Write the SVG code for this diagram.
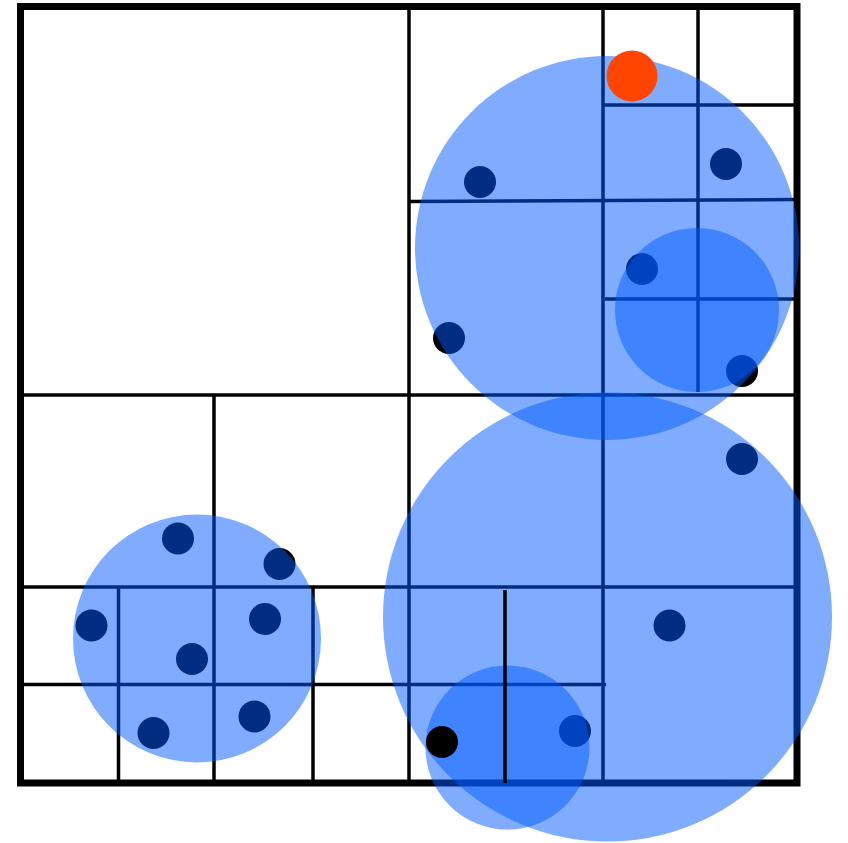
<svg xmlns="http://www.w3.org/2000/svg" width="848" height="843" viewBox="0 0 848 843">
<style>
.g{stroke:#000;stroke-width:3.5;fill:none}
.b{stroke:#000;stroke-width:7;fill:none}
.p{fill:#000}
.c{fill:#005aff;fill-opacity:0.5}
</style>
<rect width="848" height="843" fill="#fff"/>
<g id="grid">
<line class="g" x1="409" y1="7" x2="409" y2="783"/>
<line class="g" x1="20" y1="395" x2="797" y2="395"/>
<line class="g" x1="603" y1="7" x2="603" y2="783"/>
<line class="g" x1="409" y1="201.5" x2="797" y2="199.5"/>
<line class="g" x1="698" y1="7" x2="698" y2="392"/>
<line class="g" x1="603" y1="105" x2="797" y2="105"/>
<line class="g" x1="605" y1="299" x2="797" y2="299"/>
<line class="g" x1="214" y1="395" x2="214" y2="783"/>
<line class="g" x1="20" y1="587" x2="797" y2="587"/>
<line class="g" x1="118.5" y1="587" x2="118.5" y2="783"/>
<line class="g" x1="313" y1="587" x2="313" y2="783"/>
<line class="g" x1="20" y1="684.5" x2="606" y2="684.5"/>
<rect class="b" x="20.5" y="6.5" width="776.5" height="776.5"/>
</g>
<g id="points">
<circle class="p" cx="480" cy="182" r="16"/>
<circle class="p" cx="726" cy="164" r="16"/>
<circle class="p" cx="642" cy="269" r="16"/>
<circle class="p" cx="449" cy="338" r="16"/>
<circle class="p" cx="742" cy="371" r="16"/>
<circle class="p" cx="742" cy="459" r="16"/>
<circle class="p" cx="178" cy="538.5" r="16"/>
<circle class="p" cx="279.5" cy="564" r="16"/>
<circle class="p" cx="91.5" cy="625.5" r="16"/>
<circle class="p" cx="265" cy="619" r="16"/>
<circle class="p" cx="192" cy="659" r="16"/>
<circle class="p" cx="153.5" cy="733" r="16"/>
<circle class="p" cx="254.5" cy="716.5" r="16"/>
<circle class="p" cx="669.5" cy="625.5" r="16"/>
<circle class="p" cx="575" cy="731" r="16"/>
</g>
<g id="circles">
<circle class="c" cx="607" cy="248" r="192"/>
<circle class="c" cx="697" cy="310" r="82"/>
<circle class="c" cx="607.5" cy="617" r="224.5"/>
<circle class="c" cx="507.5" cy="747.5" r="82"/>
<circle class="c" cx="197" cy="638.5" r="124"/>
</g>
<g id="top">
<line class="g" x1="505" y1="590" x2="505" y2="783"/>
<circle class="p" cx="442" cy="742" r="16"/>
<circle cx="632" cy="76" r="25.5" fill="#ff4500"/>
</g>
</svg>
